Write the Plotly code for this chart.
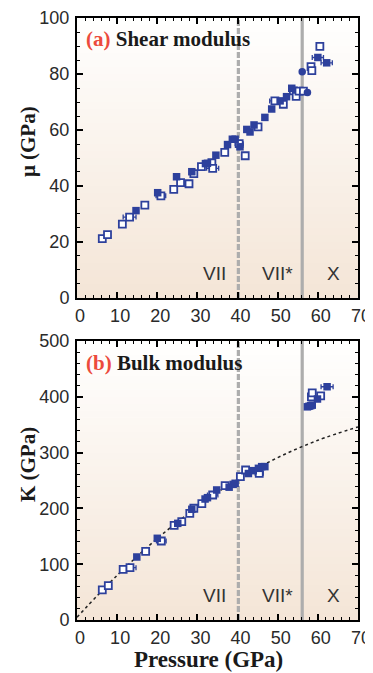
import plotly.graph_objects as go
from plotly.subplots import make_subplots

# ---------------- data ----------------
# (a) shear modulus
P_mu_fill = [14.7, 20.1, 24.8, 28.6, 32.0, 32.5, 34.6, 37.5, 38.7, 39.4, 40.6, 42.3, 43.1, 44.1,
             46.8, 48.5, 50.6, 52.2, 53.5, 60.0, 62.2]
mu_fill = [31.2, 37.6, 43.3, 45.1, 48.0, 48.1, 51.0, 54.8, 56.7, 56.7, 54.0, 60.2, 59.3, 61.8,
           64.5, 67.5, 70.4, 71.9, 74.9, 85.9, 84.0]
mu_fill_err = [0, 0, 0, 0, 0, 0, 0, 0, 0, 0, 0, 0, 0, 0, 0, 0, 0, 0, 0, 1.4, 1.4]

P_mu_circ = [56.1, 57.4]
mu_circ = [80.8, 73.4]

P_mu_open = [6.3, 7.6, 11.3, 13.1, 16.9, 20.9, 24.1, 25.8, 27.9, 29.1, 31.0, 33.6, 33.8, 36.8,
             40.4, 41.9, 45.1, 49.3, 51.4, 53.9, 54.6, 55.3, 56.4, 58.3, 58.5, 60.5]
mu_open = [21.2, 22.6, 26.4, 28.9, 33.2, 36.5, 38.8, 41.2, 40.8, 44.4, 46.9, 48.3, 46.3, 52.0,
           55.1, 50.8, 61.1, 70.4, 69.2, 74.0, 72.0, 73.9, 73.9, 82.6, 81.2, 89.9]
mu_open_err = [0, 0, 0, 1.6, 0, 1.2, 0, 0, 0, 0, 0, 0, 1.5, 0,
               1.0, 0, 0, 1.3, 0, 0, 0, 0, 0, 0, 0, 0]

# (b) bulk modulus
P_K_fill = [14.9, 20.0, 25.1, 28.6, 31.9, 32.5, 34.8, 37.9, 38.9, 39.4, 42.7, 43.9, 45.2, 46.0,
            46.8, 57.4, 57.8, 58.2, 58.6, 59.9, 62.3]
K_fill = [112.9, 146.4, 173.2, 198.4, 216.8, 219.2, 233.0, 238.0, 243.0, 245.0, 262.5, 267.6,
          271.8, 274.8, 274.8, 382.0, 383.0, 384.0, 385.0, 396.0, 418.0]
K_fill_err = [0] * 20 + [1.5]

P_K_open = [6.3, 7.8, 11.5, 13.2, 17.1, 21.0, 24.2, 26.1, 28.1, 29.1, 31.1, 33.8, 36.9, 40.7,
            42.0, 45.4, 58.4, 58.6, 60.7]
K_open = [53.8, 61.5, 90.8, 93.8, 123.0, 141.6, 169.7, 176.2, 191.2, 200.2, 208.4, 224.0, 240.7,
          256.8, 268.8, 262.9, 400.0, 407.0, 401.5]
K_open_err = [0, 0, 0, 1.5, 0, 1.2, 0, 0, 0, 0, 0, 1.3, 0, 0, 0, 1.0, 0, 0, 0]

# fitted curve
P_fit = [0, 10, 20, 30, 40, 50, 60, 70]
K_fit = [5, 80, 146, 203, 252, 291, 322, 346]

# phase boundaries (GPa)
P_VII_VIIstar = 40.2
P_VIIstar_X = 56.1

phase_names = ["VII", "VII*", "X"]
phase_label_P = [34.3, 50.0, 63.8]
phase_label_mu = 8.8
phase_label_K = 44.8

x_ticks = [0, 10, 20, 30, 40, 50, 60, 70]
mu_ticks = [0, 20, 40, 60, 80, 100]
K_ticks = [0, 100, 200, 300, 400, 500]

# ---------------- style ----------------
BLUE = "#2D409C"
GRAY = "#ADADAD"
TXT = "#2a2a2a"
SERIF = "Liberation Serif, Times New Roman, serif"
SANS = "Liberation Sans, Arial, sans-serif"

fig = make_subplots(rows=2, cols=1, vertical_spacing=0.0714)


def add_points(x, y, err, row, filled, symbol="square"):
    fig.add_trace(go.Scatter(
        x=x, y=y, mode="markers",
        error_x=dict(type="data", array=err, color=BLUE, thickness=1.3, width=2.5, symmetric=True),
        marker=dict(symbol=symbol, size=7.5 if filled else 7,
                    color=BLUE if filled else "white",
                    line=dict(color=BLUE, width=0 if filled else 1.8)),
        showlegend=False, hoverinfo="x+y"), row=row, col=1)


add_points(P_mu_open, mu_open, mu_open_err, 1, False)
add_points(P_mu_fill, mu_fill, mu_fill_err, 1, True)
add_points(P_mu_circ, mu_circ, [0, 0], 1, True, symbol="circle")

fig.add_trace(go.Scatter(x=P_fit, y=K_fit, mode="lines",
                         line=dict(color="#222", width=1.5, dash="dot", shape="spline"),
                         showlegend=False, hoverinfo="skip"), row=2, col=1)
add_points(P_K_open, K_open, K_open_err, 2, False)
add_points(P_K_fill, K_fill, K_fill_err, 2, True)

# gradient background (white at top -> peach at bottom)
shapes = []
N = 40
top_rgb = (255, 255, 255)
bot_rgb = (244, 229, 214)
for ydom in ["y domain", "y2 domain"]:
    xdom = "x domain" if ydom == "y domain" else "x2 domain"
    for i in range(N):
        t = (i + 0.5) / N  # 0 bottom -> 1 top
        c = tuple(int(round(bot_rgb[k] + (top_rgb[k] - bot_rgb[k]) * t)) for k in range(3))
        shapes.append(dict(type="rect", xref=xdom, yref=ydom, x0=0, x1=1,
                           y0=i / N, y1=(i + 1) / N + 0.002,
                           fillcolor="rgb(%d,%d,%d)" % c, line=dict(width=0), layer="below"))
    xr = "x" if ydom == "y domain" else "x2"
    shapes.append(dict(type="line", xref=xr, yref=ydom, x0=P_VII_VIIstar, x1=P_VII_VIIstar,
                       y0=0, y1=1, line=dict(color=GRAY, width=3.2, dash="6px,2px"), layer="below"))
    shapes.append(dict(type="line", xref=xr, yref=ydom, x0=P_VIIstar_X, x1=P_VIIstar_X,
                       y0=0, y1=1, line=dict(color=GRAY, width=3.2), layer="below"))
fig.update_layout(shapes=shapes)

axis_common = dict(showline=True, linecolor="black", linewidth=2, mirror="ticks",
                   ticks="inside", ticklen=6, tickwidth=1.5, tickcolor="black",
                   showgrid=False, zeroline=False, automargin=False,
                   tickfont=dict(family=SANS, size=18, color=TXT))

for r in (1, 2):
    fig.update_xaxes(range=[0, 70], tickvals=x_ticks, ticklabelstandoff=0, ticklabelshift=3,
                     minor=dict(dtick=2, ticks="inside", ticklen=3, tickwidth=1.2, tickcolor="black"),
                     row=r, col=1, **axis_common)
fig.update_yaxes(range=[0, 100], tickvals=mu_ticks, ticklabelstandoff=2,
                 minor=dict(dtick=5, ticks="inside", ticklen=3, tickwidth=1.2, tickcolor="black"),
                 row=1, col=1, **axis_common)
fig.update_yaxes(range=[0, 500], tickvals=K_ticks, ticklabelstandoff=2,
                 minor=dict(dtick=20, ticks="inside", ticklen=3, tickwidth=1.2, tickcolor="black"),
                 row=2, col=1, **axis_common)

ann = []
# panel labels
ann.append(dict(xref="x domain", yref="y domain", x=0.025, y=0.925, xanchor="left", yanchor="middle",
                text='<span style="color:#EC4A3C">(a)</span> Shear modulus', showarrow=False,
                font=dict(family=SERIF, size=21, color="#1a1a1a", weight="bold")))
ann.append(dict(xref="x2 domain", yref="y2 domain", x=0.025, y=0.921, xanchor="left", yanchor="middle",
                text='<span style="color:#EC4A3C">(b)</span> Bulk modulus', showarrow=False,
                font=dict(family=SERIF, size=21, color="#1a1a1a", weight="bold")))
# phase labels
for name, p in zip(phase_names, phase_label_P):
    ann.append(dict(xref="x", yref="y", x=p, y=phase_label_mu, text=name, showarrow=False,
                    xanchor="center", yanchor="middle",
                    font=dict(family=SANS, size=19, color="#333")))
    ann.append(dict(xref="x2", yref="y2", x=p, y=phase_label_K, text=name, showarrow=False,
                    xanchor="center", yanchor="middle",
                    font=dict(family=SANS, size=19, color="#333")))
# axis titles
ann.append(dict(xref="paper", yref="paper", x=-0.174, y=0.794, text="μ (GPa)", textangle=-90,
                xanchor="center", yanchor="middle",
                showarrow=False, font=dict(family=SERIF, size=21, color="#1a1a1a", weight="bold")))
ann.append(dict(xref="paper", yref="paper", x=-0.174, y=0.2575, text="K (GPa)", textangle=-90,
                xanchor="center", yanchor="middle",
                showarrow=False, font=dict(family=SERIF, size=21, color="#1a1a1a", weight="bold")))
ann.append(dict(xref="paper", yref="paper", x=0.468, y=-0.066, text="Pressure (GPa)",
                xanchor="center", yanchor="middle",
                showarrow=False, font=dict(family=SERIF, size=23, color="#1a1a1a", weight="bold")))
fig.update_layout(annotations=ann)

# the page body adds an 8px offset; size the figure so the plot area lands where the reference's does
fig.update_layout(width=365, height=665, margin=dict(l=69, r=15, t=10, b=53, autoexpand=False),
                  paper_bgcolor="white", plot_bgcolor="white")
fig.update_yaxes(domain=[0.5349, 1.0], row=1, col=1)
fig.update_yaxes(domain=[0.0, 0.4635], row=2, col=1)

fig.write_html("out.html")
